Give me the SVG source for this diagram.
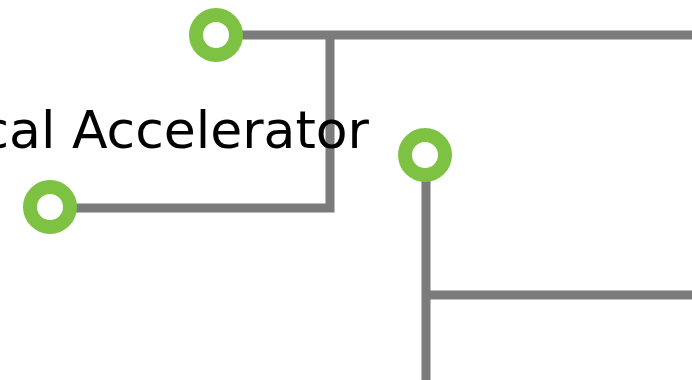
<svg xmlns="http://www.w3.org/2000/svg" width="692" height="380" viewBox="0 0 692 380">
<style>
.wire{fill:none;stroke:#7b7b7b;stroke-width:9;stroke-linejoin:miter}
.node{fill:#ffffff;stroke:#7dc242;stroke-width:14}
.lbl{font-family:"DejaVu Sans",Verdana,sans-serif;font-size:52px;fill:#000}
</style>
<rect width="692" height="380" fill="#fff"/>
<g id="connectors">
<path class="wire" d="M216,35 H692"/>
<path class="wire" d="M50,208 H330 V35"/>
<path class="wire" d="M426,155 V380"/>
<path class="wire" d="M426,295 H692"/>
</g>
<text class="lbl" x="369" y="148" text-anchor="end">cal Accelerator</text>
<g id="node1"><circle class="node" cx="216" cy="35" r="20"/></g>
<g id="node2"><circle class="node" cx="50" cy="207" r="20"/></g>
<g id="node3"><circle class="node" cx="425" cy="155" r="20"/></g>
</svg>
